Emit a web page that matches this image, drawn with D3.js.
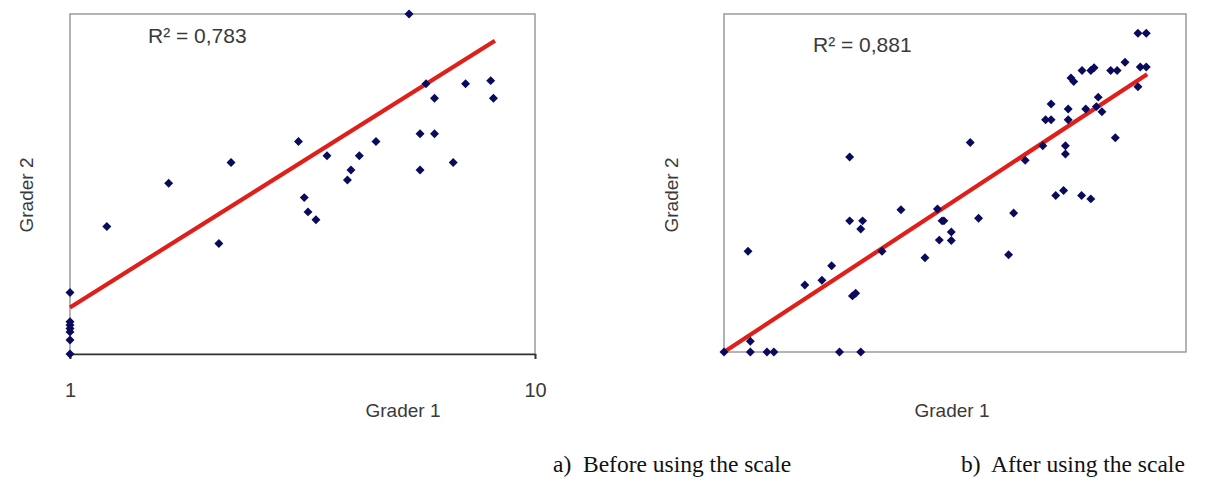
<!DOCTYPE html>
<html>
<head>
<meta charset="utf-8">
<script src="https://cdn.jsdelivr.net/npm/d3@7"></script>
<style>
  body { margin: 0; background: #fff; }
  text { font-family: "Liberation Sans", Arial, sans-serif; fill: #3a3a3a; }
  .caption { font-family: "Liberation Serif", serif; fill: #111; }
</style>
</head>
<body>
<div id="chart"></div>
<script>
// left panel: grader 1 on a log axis (1..10), grader 2 linear
const beforeG1 = [5.36, 5.83, 7.09, 8.03, 6.08, 8.14, 5.66, 6.08, 4.55, 3.10, 3.57, 4.19, 2.22, 6.67, 4.02,
                  5.66, 3.95, 1.63, 3.19, 3.25, 3.38, 1.20, 2.09, 1, 1, 1, 1, 1, 1, 1];
const beforeG2 = [10.0, 7.95, 7.95, 8.04, 7.52, 7.52, 6.48, 6.48, 6.25, 6.25, 5.83, 5.83, 5.63, 5.63, 5.41,
                  5.41, 5.12, 5.02, 4.60, 4.18, 3.95, 3.75, 3.25, 1.81, 0.95, 0.85, 0.75, 0.65, 0.41, 0];
// right panel
const afterG1 = [0, 0.52, 0.57, 0.57, 0.93, 1.08, 1.75, 2.12, 2.33, 2.50, 2.72, 2.72, 2.78, 2.85, 2.96,
                 3.00, 2.96, 3.42, 3.83, 4.35, 4.62, 4.66, 4.72, 4.76, 4.92, 4.92, 5.33, 5.51, 6.16, 6.27,
                 6.52, 6.90, 6.96, 7.08, 7.08, 7.18, 7.35, 7.39, 7.39, 7.45, 7.45, 7.51, 7.57, 7.74, 7.75,
                 7.83, 7.94, 7.94, 8.01, 8.10, 8.06, 8.18, 8.37, 8.51, 8.47, 8.68, 8.96, 8.96, 9.14, 9.01, 9.14];
const afterG2 = [0, 2.98, 0.32, 0, 0, 0, 1.98, 2.12, 2.55, 0, 5.77, 3.88, 1.66, 1.74, 0,
                 3.88, 3.64, 2.98, 4.21, 2.79, 4.23, 3.31, 3.88, 3.88, 3.55, 3.30, 6.20, 3.96, 2.88, 4.11,
                 5.67, 6.10, 6.87, 6.87, 7.34, 4.63, 4.78, 6.10, 5.86, 7.19, 6.87, 8.11, 8.00, 4.63, 8.33,
                 7.19, 4.53, 8.33, 8.41, 7.54, 7.26, 7.11, 8.33, 8.33, 6.34, 8.57, 7.85, 9.43, 9.43, 8.43, 8.43];

// trend lines: y = a + b * f(x), drawn between x0 and x1
const beforeTrend = {a: 1.37, b: 8.58, x0: 1, x1: 8.2};
const afterTrend = {a: 0, b: 0.897, x0: 0, x1: 9.16};
const r2Labels = ["R² = 0,783", "R² = 0,881"];
const xTicks = [1, 10];
const captions = [["a)", "Before using the scale"], ["b)", "After using the scale"]];

const width = 1217, height = 491;
const svg = d3.select("#chart").append("svg")
  .attr("width", width).attr("height", height);

const diamond = d3.symbol().type(d3.symbolSquare).size(40);

function panel(opt) {
  const g = svg.append("g");
  const x = opt.x, y = opt.y;
  const [xl, xr] = x.range(), [yb, yt] = y.range();

  // plot box
  g.append("rect")
    .attr("x", xl).attr("y", yt)
    .attr("width", xr - xl).attr("height", yb - yt)
    .attr("fill", "none").attr("stroke", "#8c8c8c").attr("stroke-width", 1.3);

  if (opt.ticks) {
    const ax = g.append("g")
      .attr("transform", `translate(0,${yb})`)
      .call(d3.axisBottom(x).tickValues(opt.ticks).tickSize(5).tickPadding(24).tickFormat(d3.format("d")));
    ax.select(".domain").attr("stroke", "#333").attr("stroke-width", 1.6);
    ax.selectAll("line").attr("stroke", "#333").attr("stroke-width", 1.6);
    ax.selectAll("text").style("font-size", "20px").attr("fill", "#3a3a3a")
      .style("font-family", "'Liberation Sans', Arial, sans-serif");
  }

  const t = opt.trend;
  const fx = opt.log ? Math.log10 : (v => v);
  g.append("line")
    .attr("x1", x(t.x0)).attr("y1", y(t.a + t.b * fx(t.x0)))
    .attr("x2", x(t.x1)).attr("y2", y(t.a + t.b * fx(t.x1)))
    .attr("stroke", "#e01e1a").attr("stroke-width", 4.2).attr("stroke-linecap", "butt");

  g.selectAll(".pt")
    .data(opt.g1.map((v, i) => [v, opt.g2[i]]))
    .enter().append("path")
    .attr("class", "pt")
    .attr("d", diamond)
    .attr("transform", d => `translate(${x(d[0])},${y(d[1])}) rotate(45)`)
    .attr("fill", "#0a0a5c");

  g.append("text")
    .attr("x", opt.r2x).attr("y", opt.r2y)
    .style("font-size", "21px")
    .text(opt.r2);

  g.append("text")
    .attr("x", opt.g1x).attr("y", 417)
    .attr("text-anchor", "middle")
    .style("font-size", "19px")
    .text("Grader 1");

  g.append("text")
    .attr("transform", `translate(${opt.g2x},195) rotate(-90)`)
    .attr("text-anchor", "middle")
    .style("font-size", "19px")
    .text("Grader 2");

  g.append("text").attr("class", "caption")
    .attr("x", opt.capx).attr("y", 472)
    .style("font-size", "23.5px")
    .text(opt.caption[0]);
  g.append("text").attr("class", "caption")
    .attr("x", opt.capx + 30).attr("y", 472)
    .style("font-size", "23.5px")
    .text(opt.caption[1]);
}

panel({
  x: d3.scaleLog().domain([1, 10]).range([70, 535]),
  y: d3.scaleLinear().domain([0, 10]).range([354, 14]),
  log: true, ticks: xTicks,
  g1: beforeG1, g2: beforeG2, trend: beforeTrend,
  r2: r2Labels[0], r2x: 148, r2y: 43,
  g1x: 403, g2x: 33, capx: 553, caption: captions[0]
});

panel({
  x: d3.scaleLinear().domain([0, 10]).range([724, 1186]),
  y: d3.scaleLinear().domain([0, 10]).range([352, 14]),
  log: false, ticks: null,
  g1: afterG1, g2: afterG2, trend: afterTrend,
  r2: r2Labels[1], r2x: 813, r2y: 52,
  g1x: 952, g2x: 678, capx: 961, caption: captions[1]
});
</script>
</body>
</html>
